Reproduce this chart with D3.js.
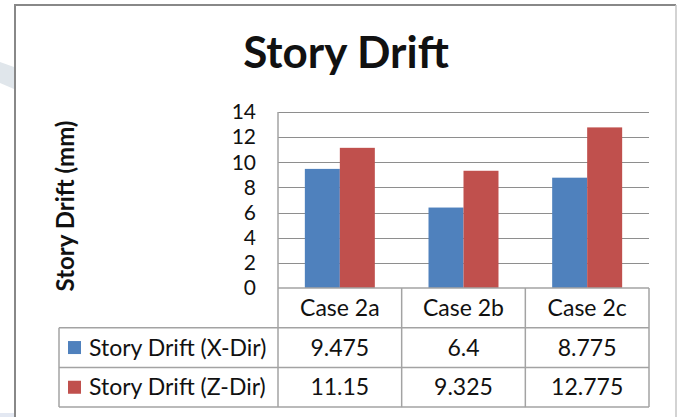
<!DOCTYPE html>
<html>
<head>
<meta charset="utf-8">
<script src="https://cdn.jsdelivr.net/npm/d3@7/dist/d3.min.js"></script>
<style>
  html, body { margin: 0; padding: 0; background: #ffffff; }
  svg { display: block; }
  text { font-family: Lato, "Open Sans", "Liberation Sans", sans-serif; fill: #111; }
</style>
</head>
<body>
<svg id="chart" width="678" height="417"></svg>
<script>
// ---- data ----
const categories = ["Case 2a", "Case 2b", "Case 2c"];
const seriesNames = ["Story Drift (X-Dir)", "Story Drift (Z-Dir)"];
const xDirValues = [9.475, 6.4, 8.775];
const zDirValues = [11.15, 9.325, 12.775];
const yTickValues = [0, 2, 4, 6, 8, 10, 12, 14];
const seriesColors = ["#4F81BD", "#C0504D"];
const chartTitle = "Story Drift";
const yAxisTitle = "Story Drift (mm)";

const seriesValues = [xDirValues, zDirValues];

const svg = d3.select("#chart");

// background decorations (behind the chart frame)
svg.append("path")
  .attr("d", "M0,62 L14,67 L14,89 L0,83 Z")
  .attr("fill", "#e0e6eb");
svg.append("rect").attr("x", 0).attr("y", 413).attr("width", 14).attr("height", 4).attr("fill", "#e3e8f2");

// chart frame
svg.append("rect")
  .attr("x", 15).attr("y", 5).attr("width", 661).attr("height", 440)
  .attr("fill", "#ffffff").attr("stroke", "none");
svg.append("line").attr("x1", 15).attr("x2", 676).attr("y1", 5).attr("y2", 5)
  .attr("stroke", "#888").attr("stroke-width", 2);
svg.append("line").attr("x1", 15).attr("x2", 15).attr("y1", 4).attr("y2", 417)
  .attr("stroke", "#888").attr("stroke-width", 2);
svg.append("line").attr("x1", 676).attr("x2", 676).attr("y1", 5).attr("y2", 417)
  .attr("stroke", "#c4c4c4").attr("stroke-width", 1.5);

// layout
const plotLeft = 278, plotRight = 649, plotTop = 112, plotBottom = 288;
const tableLeft = 59;
const rowHeight = 39.7;

const x = d3.scaleBand().domain(categories).range([plotLeft, plotRight]).padding(0);
const xInner = d3.scaleBand().domain(seriesNames).range([0, x.bandwidth()])
  .paddingInner(0).paddingOuter(0.767);
const y = d3.scaleLinear().domain([0, 14]).range([plotBottom, plotTop]);

// title
svg.append("text")
  .attr("x", 346).attr("y", 68)
  .attr("text-anchor", "middle")
  .style("font-size", "44px").style("font-weight", "700")
  .text(chartTitle);

// y axis title
svg.append("text")
  .attr("transform", `translate(74,${(plotTop + plotBottom) / 2 + 6}) rotate(-90)`)
  .attr("text-anchor", "middle")
  .style("font-size", "24px").style("font-weight", "700")
  .text(yAxisTitle);

// gridlines
svg.append("g").selectAll("line").data(yTickValues.filter(d => d > 0)).join("line")
  .attr("x1", plotLeft).attr("x2", plotRight)
  .attr("y1", d => Math.round(y(d)) + 0.5).attr("y2", d => Math.round(y(d)) + 0.5)
  .attr("stroke", "#8e8e8e").attr("stroke-width", 1.2);

// y axis labels via d3 axis
const yAxis = d3.axisLeft(y).tickValues(yTickValues).tickSize(0).tickPadding(22);
const yg = svg.append("g").attr("transform", `translate(${plotLeft},0)`).call(yAxis);
yg.select(".domain").remove();
yg.selectAll("text")
  .style("font-size", "21px")
  .style("font-family", "Lato, 'Open Sans', sans-serif")
  .attr("fill", "#111");

// bars
const groups = svg.append("g").selectAll("g").data(categories).join("g")
  .attr("transform", d => `translate(${x(d)},0)`);
groups.selectAll("rect")
  .data((c, i) => seriesNames.map((s, j) => ({ s, j, v: seriesValues[j][i] })))
  .join("rect")
  .attr("x", d => xInner(d.s))
  .attr("width", xInner.bandwidth())
  .attr("y", d => y(d.v))
  .attr("height", d => y(0) - y(d.v))
  .attr("fill", d => seriesColors[d.j]);

// data table lines
const tableColor = "#a3a3a3";
const rowYs = [plotBottom, plotBottom + rowHeight, plotBottom + 2 * rowHeight, plotBottom + 3 * rowHeight];
const tl = svg.append("g").attr("stroke", tableColor).attr("stroke-width", 1.5);
// horizontal
tl.append("line").attr("x1", plotLeft).attr("x2", plotRight).attr("y1", rowYs[0]).attr("y2", rowYs[0]);
[1, 2, 3].forEach(i => {
  tl.append("line").attr("x1", tableLeft).attr("x2", plotRight).attr("y1", rowYs[i]).attr("y2", rowYs[i]);
});
// vertical
tl.append("line").attr("x1", tableLeft).attr("x2", tableLeft).attr("y1", rowYs[1]).attr("y2", rowYs[3]);
tl.append("line").attr("x1", plotLeft).attr("x2", plotLeft).attr("y1", plotTop).attr("y2", rowYs[3]);
categories.forEach(c => {
  const xr = x(c) + x.bandwidth();
  tl.append("line").attr("x1", xr).attr("x2", xr).attr("y1", rowYs[0]).attr("y2", rowYs[3]);
});

// category labels
svg.append("g").selectAll("text").data(categories).join("text")
  .attr("x", d => x(d) + x.bandwidth() / 2)
  .attr("y", (rowYs[0] + rowYs[1]) / 2)
  .attr("dy", "0.35em")
  .attr("text-anchor", "middle")
  .style("font-size", "23px")
  .text(d => d);

// legend rows + values
seriesNames.forEach((s, j) => {
  const cy = (rowYs[j + 1] + rowYs[j + 2]) / 2;
  svg.append("rect")
    .attr("x", 68).attr("y", cy - 6.5).attr("width", 13).attr("height", 13)
    .attr("fill", seriesColors[j]);
  svg.append("text")
    .attr("x", 89).attr("y", cy).attr("dy", "0.35em")
    .style("font-size", "23px")
    .text(s);
  svg.append("g").selectAll("text").data(categories).join("text")
    .attr("x", d => x(d) + x.bandwidth() / 2)
    .attr("y", cy).attr("dy", "0.35em")
    .attr("text-anchor", "middle")
    .style("font-size", "23px")
    .text((d, i) => String(seriesValues[j][i]));
});
</script>
</body>
</html>
